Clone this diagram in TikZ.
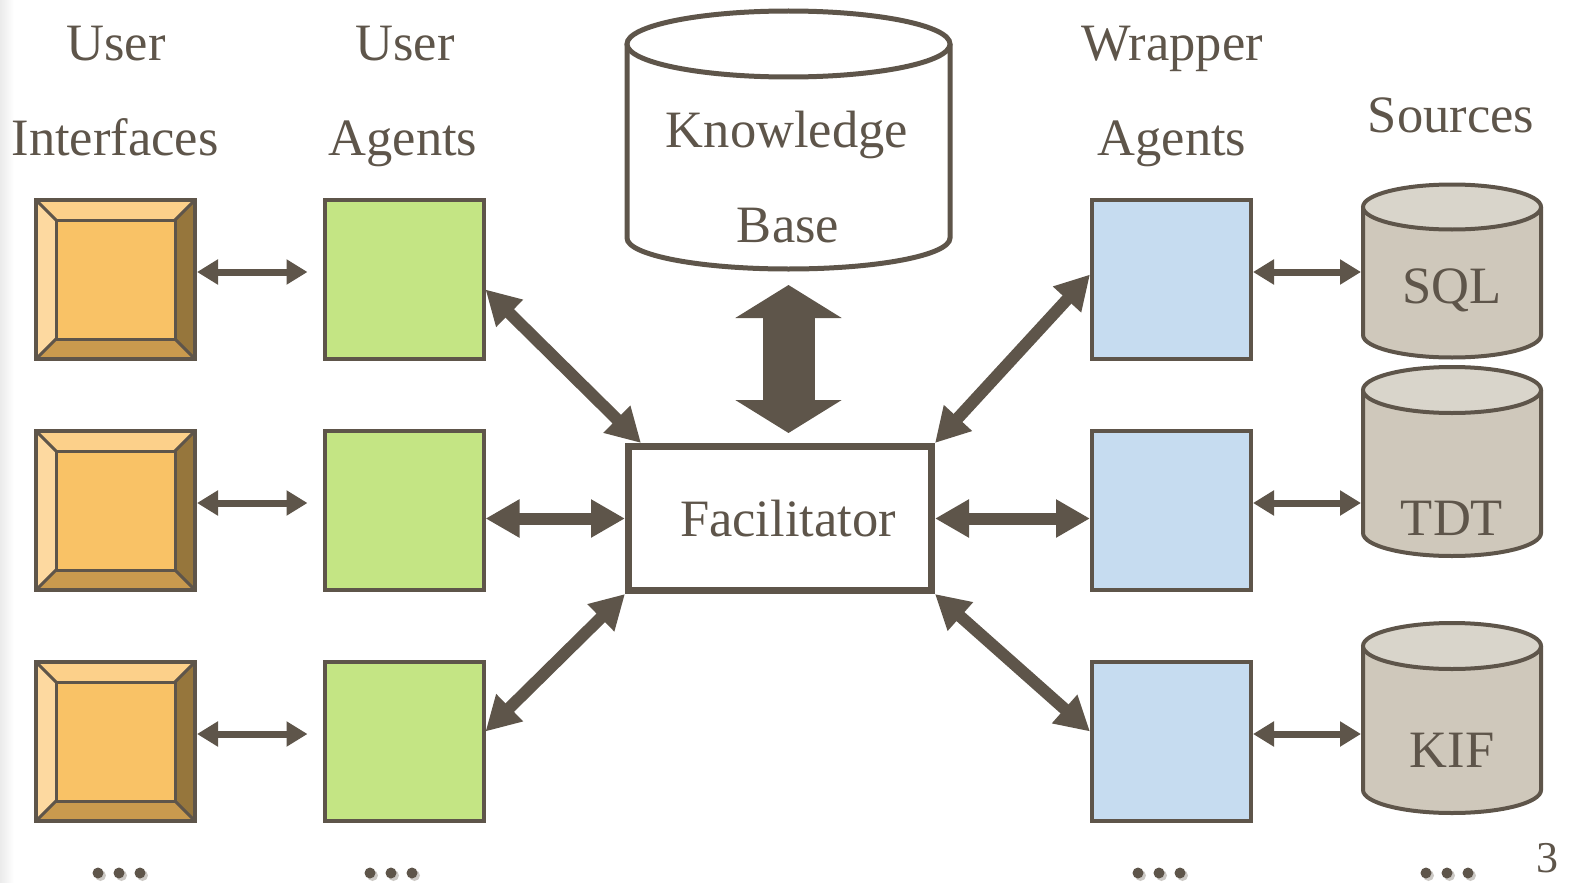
\documentclass[tikz,border=0pt]{standalone}
\usepackage{fontspec}
\setmainfont{Liberation Serif}
\usetikzlibrary{arrows.meta,calc}
\definecolor{ink}{HTML}{5E554A}
\definecolor{uicenter}{HTML}{F9C266}
\definecolor{uitop}{HTML}{FCD08A}
\definecolor{uileft}{HTML}{FDD9A0}
\definecolor{uiright}{HTML}{96763C}
\definecolor{uibottom}{HTML}{C99A4E}
\definecolor{uagreen}{HTML}{C4E584}
\definecolor{wablue}{HTML}{C6DCF0}
\definecolor{cylbody}{HTML}{CFC8BB}
\definecolor{cyltop}{HTML}{D9D5CB}
\definecolor{dotshadow}{HTML}{CCC9C5}
\begin{document}
\begin{tikzpicture}[x=1pt,y=-1pt,
  lbl/.style={anchor=base, inner sep=0pt, text=ink, font=\fontsize{52.5}{60}\selectfont},
  uibox/.style={draw=ink, line width=4pt, minimum size=159pt, inner sep=0pt, outer sep=2pt},
  uabox/.style={draw=ink, fill=uagreen, line width=4pt, minimum size=159pt, inner sep=0pt, outer sep=2pt},
  wabox/.style={draw=ink, fill=wablue, line width=4pt, minimum size=159pt, inner sep=0pt, outer sep=2pt},
  facbox/.style={draw=ink, fill=white, line width=7pt, minimum width=303pt, minimum height=144pt, inner sep=0pt, outer sep=3.5pt, text=ink, font=\fontsize{52.5}{60}\selectfont},
  srcnode/.style={minimum width=182pt, inner sep=0pt, outer sep=0pt},
  sarrow/.style={draw=ink, line width=7pt, {Triangle[length=21pt,width=24pt]}-{Triangle[length=21pt,width=24pt]}},
  tarrow/.style={draw=ink, line width=12pt, {Triangle[length=34pt,width=36pt]}-{Triangle[length=34pt,width=36pt]}},
  bigarrow/.style={draw=ink, line width=52pt, {Triangle[length=33pt,width=105pt]}-{Triangle[length=33pt,width=105pt]}}
]
\useasboundingbox (0,0) rectangle (1569,883);
\shade[left color=black!8, right color=white] (0,0) rectangle (14,883);

% column headings
\node[lbl] (h1a) at (116,60) {User};
\node[lbl] (h1b) at (115,155) {Interfaces};
\node[lbl] (h2a) at (405,60) {User};
\node[lbl] (h2b) at (403,155) {Agents};
\node[lbl] (h4a) at (1172,60) {Wrapper};
\node[lbl] (h4b) at (1172,155) {Agents};
\node[lbl] (h5) at (1451,132) {Sources};

% knowledge base cylinder
\draw[ink, line width=5pt, fill=white] (627,44) -- (627,238) arc[start angle=180, end angle=360, x radius=161.5pt, y radius=31pt] -- (950,44);
\draw[ink, line width=5pt, fill=white] (788.5,44) ellipse[x radius=161.5pt, y radius=33pt];
\node[minimum width=328pt, minimum height=264pt, inner sep=0pt, outer sep=0pt] (kb) at (788.5,140.5) {};
\node[lbl] (kbt1) at (787,147) {Knowledge};
\node[lbl] (kbt2) at (788,242) {Base};

% user interfaces (bevelled boxes), user agents, wrapper agents
\foreach \i/\y in {1/279.5,2/510.5,3/741.5} {
  \begin{scope}[shift={(115.5,\y)}]
    \fill[uicenter] (-79.5,-79.5) rectangle (79.5,79.5);
    \fill[uitop] (-79.5,-79.5) -- (79.5,-79.5) -- (59.5,-59.5) -- (-59.5,-59.5) -- cycle;
    \fill[uileft] (-79.5,-79.5) -- (-59.5,-59.5) -- (-59.5,59.5) -- (-79.5,79.5) -- cycle;
    \fill[uiright] (79.5,-79.5) -- (79.5,79.5) -- (59.5,59.5) -- (59.5,-59.5) -- cycle;
    \fill[uibottom] (-79.5,79.5) -- (-59.5,59.5) -- (59.5,59.5) -- (79.5,79.5) -- cycle;
    \draw[ink, line width=3pt] (-59.5,-59.5) rectangle (59.5,59.5);
    \draw[ink, line width=3pt] (-79.5,-79.5) -- (-59.5,-59.5) (79.5,-79.5) -- (59.5,-59.5)
      (79.5,79.5) -- (59.5,59.5) (-79.5,79.5) -- (-59.5,59.5);
  \end{scope}
  \node[uibox] (ui\i) at (115.5,\y) {};
  \node[uabox] (ua\i) at (404,\y) {};
  \node[wabox] (wa\i) at (1171.5,\y) {};
}

% source cylinders
\foreach \n/\yt/\yb/\ry in {1/207/335/22.5, 2/390/533/23, 3/646/790/23} {
  \fill[cylbody] (1363,\yt) -- (1363,\yb) arc[start angle=180, end angle=360, x radius=89pt, y radius=\ry pt] -- (1541,\yt) -- cycle;
  \draw[ink, line width=4pt] (1363,\yt) -- (1363,\yb) arc[start angle=180, end angle=360, x radius=89pt, y radius=\ry pt] -- (1541,\yt);
  \draw[ink, line width=4pt, fill=cyltop] (1452,\yt) ellipse[x radius=89pt, y radius=\ry pt];
  \node[srcnode, minimum height={\yb-\yt+2*\ry}] (src\n) at (1452,{(\yt+\yb)/2}) {};
}
\node[lbl] (sql) at (1452,303) {SQL};
\node[lbl] (tdt) at (1452,535) {TDT};
\node[lbl] (kif) at (1452,767) {KIF};

% facilitator
\node[facbox] (fac) at (780,518.5) {\hspace*{16pt}Facilitator};

% connectors
\draw[bigarrow] ([yshift=-12.5pt]kb.south) -- ([yshift=10pt]fac.north -| kb.south);
\foreach \i in {1,2,3} {
  \draw[sarrow] ($(ui\i.east)+(0,-7.5)$) -- ($(ua\i.west)+(-15,-7.5)$);
  \draw[sarrow] ($(wa\i.east)+(0,-7.5)$) -- ($(wa\i.east -| src\i.west)+(0,-7.5)$);
}
\draw[tarrow] ($(ua1.east)+(0,10)$) -- ($(fac.north west)+(16,0)$);
\draw[tarrow] (ua2.east |- fac.west) -- (fac.west);
\draw[tarrow] ($(ua3.east)+(0,-10)$) -- (fac.south west);
\draw[tarrow] (fac.north east) -- ($(wa1.west)+(0,-5)$);
\draw[tarrow] (fac.east) -- (wa2.west |- fac.east);
\draw[tarrow] (fac.south east) -- ($(wa3.west)+(0,-10)$);

% ellipses and page number
\foreach \cx in {119,391,1159,1447} {
  \foreach \d in {-21,0,21} {
    \fill[dotshadow] ({\cx+\d+2.5},875.5) circle[radius=5.5pt];
    \fill[ink] ({\cx+\d},873) circle[radius=5.5pt];
  }
}
\node[anchor=base, inner sep=0pt, text=ink, font=\fontsize{44}{48}\selectfont] (pg) at (1547,872) {3};
\end{tikzpicture}
\end{document}
